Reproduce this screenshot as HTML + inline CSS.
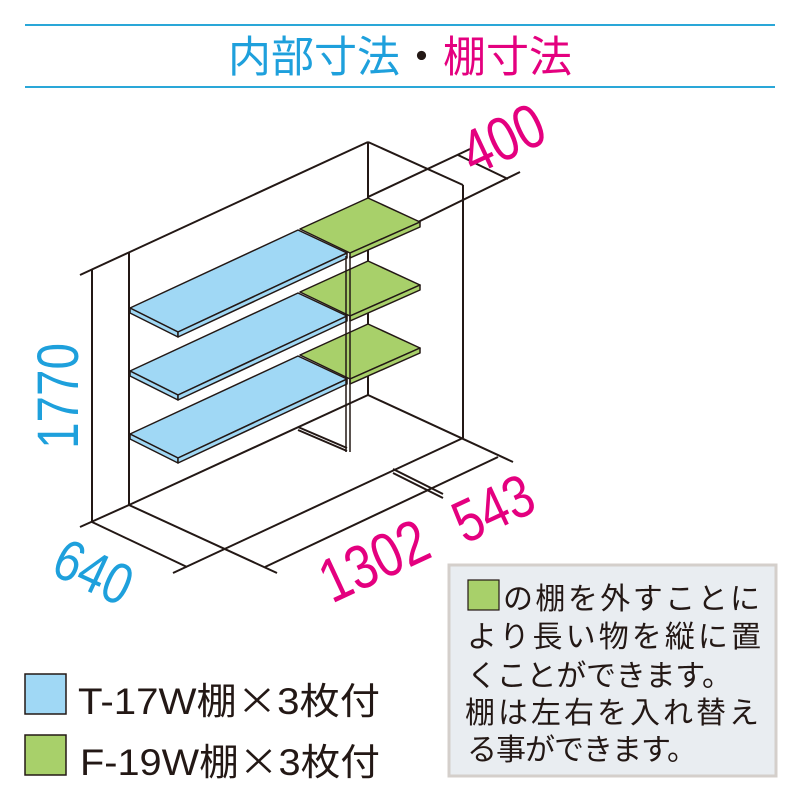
<!DOCTYPE html>
<html><head><meta charset="utf-8"><style>
html,body{margin:0;padding:0;background:#fff;}
svg{display:block;}
text{font-family:"Liberation Sans","Noto Sans CJK JP",sans-serif;}
</style></head><body>
<svg width="800" height="800" viewBox="0 0 800 800" xmlns="http://www.w3.org/2000/svg">
<line x1="25" y1="25" x2="775" y2="25" stroke="#2aa7d8" stroke-width="2"/>
<line x1="25" y1="87" x2="775" y2="87" stroke="#2aa7d8" stroke-width="2"/>
<text x="400" y="72" font-size="43" text-anchor="middle" textLength="344" lengthAdjust="spacingAndGlyphs"><tspan fill="#1ea0dc">内部寸法</tspan><tspan fill="#231815">・</tspan><tspan fill="#e4007f">棚寸法</tspan></text>

<g stroke="#231815" stroke-width="2" fill="none">
<line x1="80" y1="275" x2="368" y2="142"/>
<line x1="368" y1="142" x2="463" y2="185"/>
<line x1="368" y1="142" x2="368" y2="395"/>
<line x1="463" y1="185" x2="463" y2="438"/>
<line x1="92" y1="270" x2="92" y2="522"/>
<line x1="129" y1="253" x2="129" y2="505"/>
<line x1="129" y1="505" x2="368" y2="395"/>
<line x1="368" y1="395" x2="513" y2="462"/>
<line x1="80" y1="527" x2="129" y2="505"/>
<line x1="92" y1="522" x2="187" y2="567"/>
<line x1="129" y1="505" x2="277" y2="573"/>
<line x1="173" y1="573" x2="463" y2="438"/>
<line x1="265" y1="567" x2="498" y2="457"/>
<line x1="393" y1="469" x2="443" y2="494"/>
<line x1="393" y1="473" x2="443" y2="498"/>
<line x1="368" y1="197" x2="470" y2="149"/>
<line x1="418" y1="222" x2="520" y2="172"/>
<line x1="458" y1="155" x2="508" y2="179"/>
<line x1="298" y1="427" x2="347" y2="448"/>
<line x1="298" y1="430" x2="347" y2="451"/>
</g>

<g stroke="#231815" stroke-width="1.5" stroke-linejoin="round">
<g id="bs">
<polygon points="130,308 298,230 347,253 178,332" fill="#a0d8f5"/>
<polygon points="130,308 178,332 178,337 130,313" fill="#a0d8f5"/>
<polygon points="178,332 347,253 347,258 178,337" fill="#a0d8f5"/>
</g>
<use href="#bs" transform="translate(0,63)"/>
<use href="#bs" transform="translate(0,126)"/>
<g id="gs">
<polygon points="300,229 368,198 420,222 350,253" fill="#a8d06a"/>
<polygon points="350,253 420,222 420,227 350,258" fill="#a8d06a"/>
</g>
<use href="#gs" transform="translate(0,63)"/>
<use href="#gs" transform="translate(0,126)"/>
</g>
<line x1="346" y1="256" x2="346" y2="452" stroke="#231815" stroke-width="1.5"/>
<line x1="350" y1="256" x2="350" y2="452" stroke="#231815" stroke-width="1.5"/>

<text transform="translate(512,158) rotate(-25) scale(0.82,1)" font-size="62" fill="#e4007f" text-anchor="middle">400</text>
<text transform="translate(78,396) rotate(-90) scale(0.82,1)" font-size="58" fill="#1ea0dc" text-anchor="middle">1770</text>
<text transform="translate(85,590) rotate(25) scale(0.82,1)" font-size="58" fill="#1ea0dc" text-anchor="middle">640</text>
<text transform="translate(383,580) rotate(-25) scale(0.82,1)" font-size="62" fill="#e4007f" text-anchor="middle">1302</text>
<text transform="translate(502,527) rotate(-25) scale(0.82,1)" font-size="60" fill="#e4007f" text-anchor="middle">543</text>

<rect x="25" y="674" width="41" height="40" fill="#a0d8f5" stroke="#231815" stroke-width="1.5"/>
<rect x="25" y="735" width="41" height="40" fill="#a8d06a" stroke="#231815" stroke-width="1.5"/>
<text x="78" y="714" font-size="37" fill="#231815" textLength="302" lengthAdjust="spacingAndGlyphs">T-17W棚<tspan font-family="Noto Sans CJK JP, sans-serif">×</tspan>3枚付</text>
<text x="80" y="775" font-size="37" fill="#231815" textLength="300" lengthAdjust="spacingAndGlyphs">F-19W棚<tspan font-family="Noto Sans CJK JP, sans-serif">×</tspan>3枚付</text>

<rect x="449" y="565" width="327" height="211" fill="#e9edf1" stroke="#d4cfcb" stroke-width="3"/>
<rect x="468" y="580" width="31" height="30" fill="#a8d06a" stroke="#231815" stroke-width="1.2"/>
<g font-size="30" fill="#231815">
<text x="503" y="609" textLength="257">の棚を外すことに</text>
<text x="467" y="647" textLength="294">より長い物を縦に置</text>
<text x="467" y="686" textLength="265">くことができます。</text>
<text x="465" y="723" textLength="294">棚は左右を入れ替え</text>
<text x="467" y="760" textLength="230">る事ができます。</text>
</g>
</svg>
</body></html>
